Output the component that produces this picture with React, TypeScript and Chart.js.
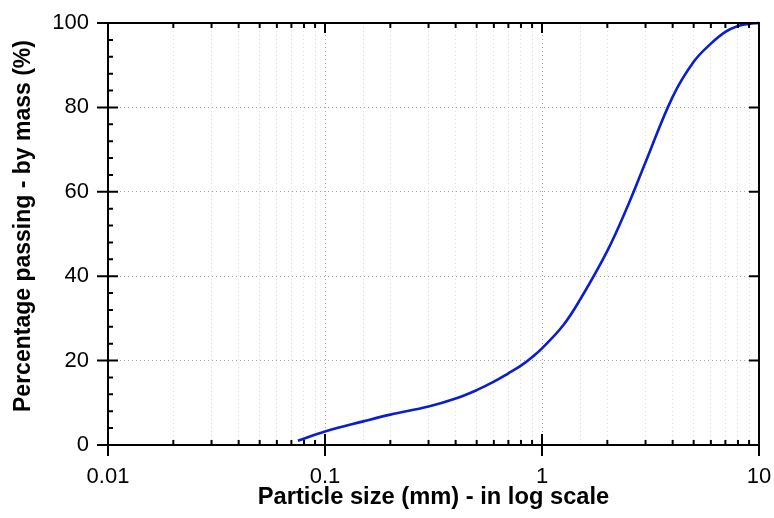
import { useEffect, useRef } from 'react';
import { Chart, registerables } from 'chart.js';

Chart.register(...registerables);

const particleSizes = [0.075, 0.1, 0.15, 0.2, 0.3, 0.4, 0.5, 0.6, 0.7, 0.8, 0.9, 1, 1.25, 1.5, 2, 2.5, 3, 4, 5, 6, 7, 8, 9, 10];
const percentPassing = [1, 3.2, 5.6, 7.2, 9.1, 11.0, 13, 15, 17, 18.8, 20.8, 22.9, 28.3, 34.5, 46, 57, 67, 82.5, 90.8, 95.1, 97.9, 99.3, 99.8, 100];
const xMajorTicks = [0.01, 0.1, 1, 10];
const yMajorTicks = [0, 20, 40, 60, 80, 100];
const yMinorStep = 4;
const xTitle = 'Particle size (mm) - in log scale';
const yTitle = 'Percentage passing - by mass (%)';

const FONT = "'Liberation Sans', Arial, sans-serif";

const isDecade = (v: number) => Math.abs(Math.log10(v) - Math.round(Math.log10(v))) < 1e-6;

const framePlugin = {
  id: 'frameTicks',
  afterDatasetsDraw(chart: any) {
    const { ctx, chartArea, scales } = chart;
    const { left: L, right: R, top: T, bottom: B } = chartArea;
    const xs = scales.x;
    const ys = scales.y;
    ctx.save();
    ctx.strokeStyle = '#000';
    ctx.lineWidth = 2;
    ctx.lineCap = 'butt';
    ctx.strokeRect(L, T, R - L, B - T);
    ctx.beginPath();
    for (let v = 0; v <= 100; v += yMinorStep) {
      const y = ys.getPixelForValue(v);
      if (yMajorTicks.includes(v)) {
        ctx.moveTo(L - 11, y);
        ctx.lineTo(L + 10, y);
        ctx.moveTo(R - 10, y);
        ctx.lineTo(R, y);
      } else {
        ctx.moveTo(L, y);
        ctx.lineTo(L + 5, y);
      }
    }
    for (let d = 0; d < xMajorTicks.length; d++) {
      const base = xMajorTicks[d];
      const x = xs.getPixelForValue(base);
      ctx.moveTo(x, B - 11);
      ctx.lineTo(x, B + 11);
      ctx.moveTo(x, T);
      ctx.lineTo(x, T + 10);
      if (d < xMajorTicks.length - 1) {
        for (let m = 2; m <= 9; m++) {
          const xm = xs.getPixelForValue(base * m);
          ctx.moveTo(xm, B);
          ctx.lineTo(xm, B - 5);
          ctx.moveTo(xm, T);
          ctx.lineTo(xm, T + 5);
        }
      }
    }
    ctx.stroke();
    ctx.translate(24, 226);
    ctx.rotate(-Math.PI / 2);
    ctx.fillStyle = '#000';
    ctx.font = `bold 23px ${FONT}`;
    ctx.textAlign = 'center';
    ctx.textBaseline = 'middle';
    ctx.fillText(yTitle, 0, 0);
    ctx.restore();
  },
};

export default function App() {
  const canvasRef = useRef<HTMLCanvasElement | null>(null);

  useEffect(() => {
    if (!canvasRef.current) return;
    const points = particleSizes.map((x, i) => ({ x, y: percentPassing[i] }));
    const zeroPad = (s: any) => {
      s.paddingLeft = 0;
      s.paddingRight = 0;
      s.paddingTop = 0;
      s.paddingBottom = 0;
    };
    const chart = new Chart(canvasRef.current, {
      type: 'scatter',
      data: {
        datasets: [
          {
            data: points,
            showLine: true,
            borderColor: '#0a1ecf',
            borderWidth: 2.6,
            pointRadius: 0,
            tension: 0.4,
            clip: false,
          } as any,
        ],
      },
      options: {
        animation: false,
        responsive: false,
        maintainAspectRatio: false,
        layout: { padding: { top: 23, right: 15, left: 0, bottom: 0 } },
        plugins: { legend: { display: false }, tooltip: { enabled: false } },
        scales: {
          x: {
            type: 'logarithmic',
            min: 0.01,
            max: 10,
            afterFit: (s: any) => { s.height = 73; zeroPad(s); },
            border: { display: false, dash: [1, 3] },
            grid: {
              drawTicks: false,
              color: (c: any) => (c.tick && isDecade(c.tick.value) ? '#a8a8a8' : '#dcdcdc'),
              lineWidth: 1,
            },
            ticks: {
              autoSkip: false,
              maxRotation: 0,
              padding: 19,
              color: '#000',
              font: { family: FONT, size: 22 },
              callback: (v: any) => {
                const n = Number(v);
                if (!isDecade(n)) return '';
                const e = Math.round(Math.log10(n));
                return e >= 0 ? String(Math.round(n)) : n.toFixed(-e);
              },
            },
            title: {
              display: true,
              text: xTitle,
              color: '#000',
              font: { family: FONT, size: 23.7, weight: 'bold' },
              padding: { top: 0, bottom: 6 },
            },
          } as any,
          y: {
            min: 0,
            max: 100,
            afterFit: (s: any) => { s.width = 108; zeroPad(s); },
            border: { display: false, dash: [1, 3] },
            grid: {
              drawTicks: false,
              color: '#a8a8a8',
              lineWidth: 1,
            },
            ticks: {
              stepSize: 20,
              padding: 19,
              color: '#000',
              font: { family: FONT, size: 22 },
            },
            title: { display: false },
          } as any,
        },
      },
      plugins: [framePlugin],
    });
    return () => chart.destroy();
  }, []);

  return (
    <div style={{ position: 'absolute', left: 0, top: 0, width: 774, height: 518, background: '#fff' }}>
      <canvas ref={canvasRef} width={774} height={518} style={{ width: 774, height: 518 }} />
    </div>
  );
}
